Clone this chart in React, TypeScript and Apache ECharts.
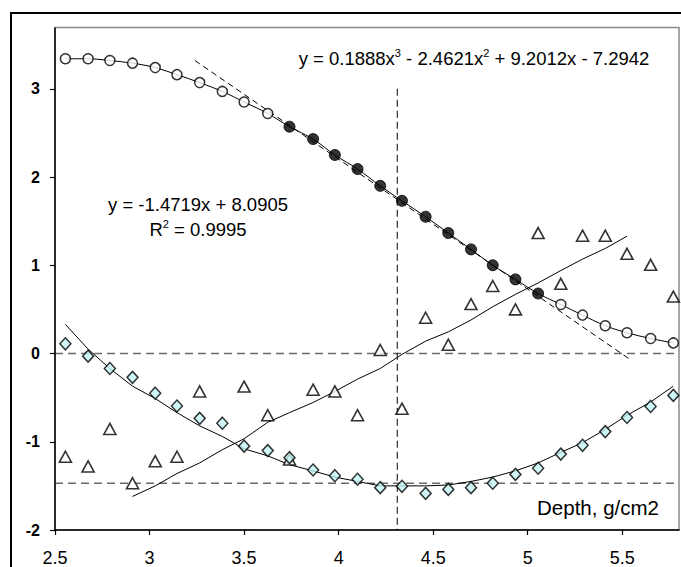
import React, { useEffect, useRef } from "react";
import * as echarts from "echarts";

// ---- data ----
const depth = [2.555, 2.675, 2.79, 2.91, 3.03, 3.145, 3.265, 3.385, 3.5, 3.625, 3.74, 3.865, 3.98, 4.1, 4.22, 4.335, 4.46, 4.58, 4.7, 4.815, 4.935, 5.055, 5.175, 5.29, 5.41, 5.525, 5.65, 5.77];
const circleY = [3.34, 3.34, 3.32, 3.29, 3.24, 3.16, 3.07, 2.97, 2.85, 2.72, 2.57, 2.43, 2.25, 2.09, 1.9, 1.73, 1.55, 1.365, 1.18, 1.0, 0.84, 0.68, 0.555, 0.435, 0.315, 0.235, 0.17, 0.12];
const circleFilled = [0, 0, 0, 0, 0, 0, 0, 0, 0, 0, 1, 1, 1, 1, 1, 1, 1, 1, 1, 1, 1, 1, 0, 0, 0, 0, 0, 0];
const triangleY = [-1.17, -1.28, -0.855, -1.47, -1.22, -1.17, -0.43, null, -0.375, -0.7, -1.2, -0.41, -0.43, -0.7, 0.04, -0.625, 0.405, 0.1, 0.56, 0.765, 0.5, 1.365, 0.79, 1.335, 1.335, 1.13, 1.005, 0.645];
const triangleTrend = [null, null, null, -1.62, -1.5, -1.36, -1.24, -1.09, -0.966, -0.78, -0.67, -0.555, -0.43, -0.29, -0.17, -0.01, 0.14, 0.245, 0.38, 0.53, 0.67, 0.8, 0.94, 1.07, 1.19, 1.33, null, null];
const diamondY = [0.11, -0.03, -0.17, -0.27, -0.45, -0.595, -0.735, -0.79, -1.05, -1.1, -1.18, -1.32, -1.385, -1.425, -1.52, -1.505, -1.585, -1.54, -1.52, -1.47, -1.37, -1.3, -1.14, -1.04, -0.885, -0.725, -0.6, -0.475];
const diamondTrend = [0.33, 0.05, -0.17, -0.37, -0.51, -0.67, -0.82, -0.94, -1.08, -1.16, -1.26, -1.33, -1.4, -1.45, -1.5, -1.5, -1.5, -1.49, -1.45, -1.4, -1.33, -1.24, -1.12, -1.01, -0.86, -0.7, -0.55, -0.37];
const linearTrendX = [3.24, 5.55];
const linearTrendY = [3.32, -0.08];
const refLinesY = [0, -1.47];
const refLineX = 4.31;
const refLineXSpan = [3, -2];
const xTicks = [2.5, 3, 3.5, 4, 4.5, 5, 5.5];
const yTicks = [-2, -1, 0, 1, 2, 3];
const xRange = [2.5, 5.8];
const yRange = [-2, 3.7];

const FONT = "'Liberation Sans', Arial, sans-serif";

const pairs = (ys: (number | null)[]) =>
  depth.map((x, i) => [x, ys[i]] as [number, number | null]).filter((p) => p[1] !== null);

export default function App() {
  const ref = useRef<HTMLDivElement>(null);
  useEffect(() => {
    if (!ref.current) return;
    const chart = echarts.init(ref.current, undefined, { renderer: "svg" });
    const lineBase = { type: "line", showSymbol: false, symbol: "none", silent: true, z: 2 };
    chart.setOption({
      animation: false,
      backgroundColor: "#fff",
      grid: { left: 55, top: 27, right: 2, bottom: 37, show: false },
      xAxis: {
        type: "value",
        min: xRange[0],
        max: xRange[1],
        axisLine: { onZero: false, lineStyle: { color: "#000", width: 1.5 } },
        axisTick: { show: true, length: 5, inside: false, customValues: xTicks, lineStyle: { color: "#000", width: 1.2 } },
        axisLabel: { customValues: xTicks, color: "#000", fontSize: 18, fontFamily: FONT, margin: 19 },
        splitLine: { show: false },
        z: 5,
      },
      yAxis: {
        type: "value",
        min: yRange[0],
        max: yRange[1],
        axisLine: { show: false, onZero: false },
        axisTick: { show: true, length: 5, inside: false, customValues: yTicks, lineStyle: { color: "#000", width: 1.2 } },
        axisLabel: { customValues: yTicks, color: "#000", fontSize: 16, fontWeight: "bold", fontFamily: FONT, margin: 15 },
        splitLine: { show: false },
        z: 5,
      },
      series: [
        ...refLinesY.map((v) => ({
          ...lineBase,
          data: [[xRange[0], v], [xRange[1], v]],
          lineStyle: { color: "#6a6a6a", width: 1.5, type: [8, 5] },
        })),
        {
          ...lineBase,
          data: [[refLineX, refLineXSpan[0]], [refLineX, refLineXSpan[1]]],
          lineStyle: { color: "#000", width: 1, type: [7, 4] },
        },
        {
          ...lineBase,
          data: linearTrendX.map((x, i) => [x, linearTrendY[i]]),
          lineStyle: { color: "#000", width: 1, type: [6, 4] },
        },
        { ...lineBase, data: pairs(circleY), smooth: 0.35, lineStyle: { color: "#000", width: 1 } },
        { ...lineBase, data: pairs(triangleTrend), lineStyle: { color: "#000", width: 1 } },
        { ...lineBase, data: pairs(diamondTrend), lineStyle: { color: "#000", width: 1 } },
        {
          type: "scatter",
          z: 3,
          data: pairs(triangleY),
          symbol: "triangle",
          symbolSize: [12, 11],
          itemStyle: { color: "#fff", borderColor: "#000", borderWidth: 1.6 },
        },
        {
          type: "scatter",
          z: 4,
          data: pairs(diamondY),
          symbol: "diamond",
          symbolSize: [11, 12],
          itemStyle: { color: "#c2f4f4", borderColor: "#000", borderWidth: 1.5 },
        },
        {
          type: "scatter",
          z: 4,
          data: pairs(circleY.map((v, i) => (circleFilled[i] ? null : v))),
          symbol: "circle",
          symbolSize: 10,
          itemStyle: { color: "#fff", borderColor: "#000", borderWidth: 1.5 },
        },
        {
          type: "scatter",
          z: 4,
          data: pairs(circleY.map((v, i) => (circleFilled[i] ? v : null))),
          symbol: "circle",
          symbolSize: 11,
          itemStyle: { color: "#000", borderColor: "#000", borderWidth: 1 },
        },
      ],
      graphic: [
        {
          type: "rect",
          silent: true,
          shape: { x: 11, y: 13, width: 720, height: 620 },
          style: { fill: "none", stroke: "#000", lineWidth: 2 },
          z: 10,
        },
        {
          type: "rect",
          silent: true,
          shape: { x: 55, y: 27.5, width: 624, height: 502.5 },
          style: { fill: "none", stroke: "#8a8a8a", lineWidth: 1.5 },
          z: 1,
        },
        {
          type: "line",
          silent: true,
          shape: { x1: 55, y1: 27.5, x2: 55, y2: 530 },
          style: { stroke: "#000", lineWidth: 1.5 },
          z: 10,
        },
        {
          type: "text",
          x: 474,
          y: 58,
          style: {
            text: "{a|y = 0.1888x}{s|3}{a| - 2.4621x}{s|2}{a| + 9.2012x - 7.2942}",
            align: "center",
            verticalAlign: "middle",
            rich: {
              a: { fontSize: 18.5, fontFamily: FONT, lineHeight: 22, fill: "#000" },
              s: { fontSize: 11, fontFamily: FONT, verticalAlign: "top", fill: "#000" },
            },
          },
          z: 10,
        },
        {
          type: "text",
          x: 198,
          y: 204,
          style: { text: "y = -1.4719x + 8.0905", align: "center", verticalAlign: "middle", fontSize: 18.5, fontFamily: FONT, fill: "#000" },
          z: 10,
        },
        {
          type: "text",
          x: 198,
          y: 229,
          style: {
            text: "{a|R}{s|2}{a| = 0.9995}",
            align: "center",
            verticalAlign: "middle",
            rich: {
              a: { fontSize: 18.5, fontFamily: FONT, lineHeight: 22, fill: "#000" },
              s: { fontSize: 11, fontFamily: FONT, verticalAlign: "top", fill: "#000" },
            },
          },
          z: 10,
        },
        {
          type: "text",
          x: 598,
          y: 507,
          style: { text: "Depth, g/cm2", align: "center", verticalAlign: "middle", fontSize: 20.5, fontFamily: FONT, fill: "#000" },
          z: 10,
        },
      ],
    });
    return () => chart.dispose();
  }, []);
  return <div ref={ref} style={{ position: "absolute", left: 0, top: 0, width: 681, height: 567 }} />;
}
